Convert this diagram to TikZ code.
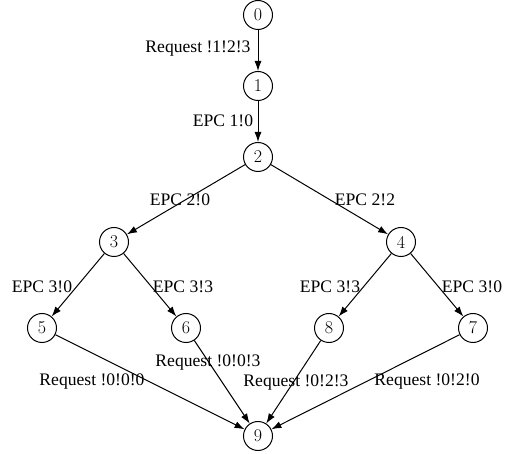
\documentclass[tikz,border=0pt]{standalone}
\usepackage{fontspec}
\newfontfamily\labelfont{Liberation Serif}
\usetikzlibrary{arrows.meta}
\begin{document}
\begin{tikzpicture}[x=1pt,y=-1pt,
  state/.style={circle,draw,line width=1pt,minimum size=29pt,inner sep=0pt,font=\fontsize{18}{18}\selectfont},
  trans/.style={-{Latex[length=10pt,width=7pt]},line width=1pt},
  lbl/.style={font=\labelfont\fontsize{17.6}{18}\selectfont,inner sep=0pt}]
\useasboundingbox (0,0) rectangle (509,454);
% states
\node[state] (s0) at (258,15) {0};
\node[state] (s1) at (258,86) {1};
\node[state] (s2) at (258,157) {2};
\node[state] (s3) at (114,242) {3};
\node[state] (s4) at (401,242) {4};
\node[state] (s5) at (42,328) {5};
\node[state] (s6) at (186,328) {6};
\node[state] (s8) at (329,328) {8};
\node[state] (s7) at (473,328) {7};
\node[state] (s9) at (258,436) {9};
% transitions
\draw[trans] (s0) -- (s1);
\draw[trans] (s1) -- (s2);
\draw[trans] (s2) -- (s3);
\draw[trans] (s2) -- (s4);
\draw[trans] (s3) -- (s5);
\draw[trans] (s3) -- (s6);
\draw[trans] (s4) -- (s8);
\draw[trans] (s4) -- (s7);
\draw[trans] (s5) -- (s9);
\draw[trans] (s6) -- (s9);
\draw[trans] (s8) -- (s9);
\draw[trans] (s7) -- (s9);
% transition labels
\node[lbl] (l01) at (198,49) {Request !1!2!3};
\node[lbl] (l12) at (223,121) {EPC 1!0};
\node[lbl] (l23) at (180,200) {EPC 2!0};
\node[lbl] (l24) at (365,200) {EPC 2!2};
\node[lbl] (l35) at (42,287) {EPC 3!0};
\node[lbl] (l36) at (183,287) {EPC 3!3};
\node[lbl] (l48) at (330,287) {EPC 3!3};
\node[lbl] (l47) at (472,287) {EPC 3!0};
\node[lbl] (l59) at (92,382) {Request !0!0!0};
\node[lbl] (l69) at (208,363) {Request !0!0!3};
\node[lbl] (l89) at (296,383) {Request !0!2!3};
\node[lbl] (l79) at (427,382) {Request !0!2!0};
\end{tikzpicture}
\end{document}
